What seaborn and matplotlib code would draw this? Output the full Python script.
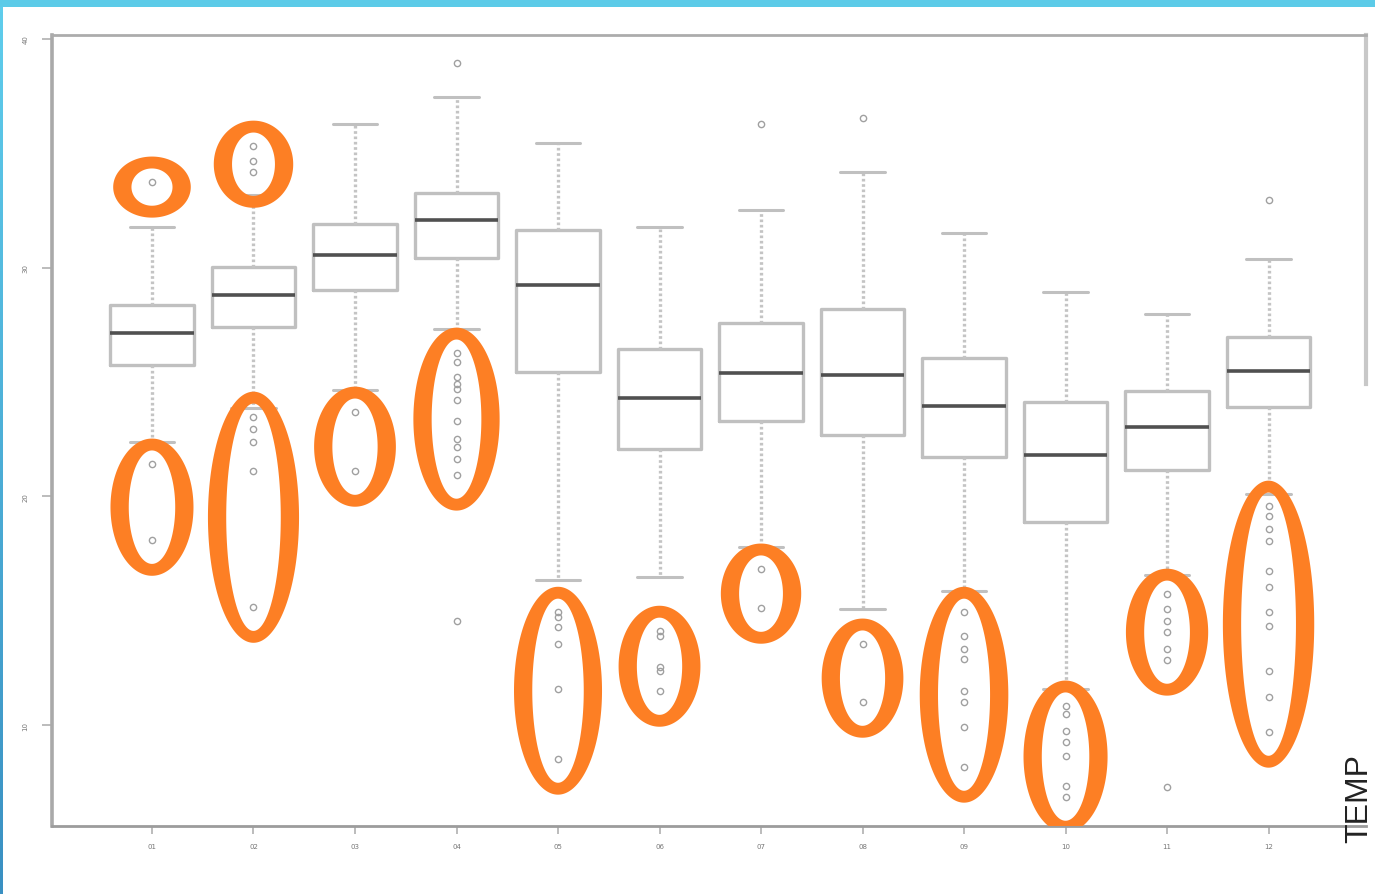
import numpy as np
import matplotlib
matplotlib.use("Agg")
import matplotlib.pyplot as plt
from matplotlib.path import Path
from matplotlib.patches import PathPatch, Rectangle
from matplotlib.colors import LinearSegmentedColormap
import seaborn as sns

# Monthly temperature summary (five-number stats per month plus outliers)
months = ["01", "02", "03", "04", "05", "06", "07", "08", "09", "10", "11", "12"]
whislo = [22.38, 23.85, 24.65, 27.30, 16.34, 16.48, 17.79, 15.08, 15.86, 11.58, 16.56, 20.10]
q1 = [25.74, 27.41, 29.03, 30.42, 25.44, 22.07, 23.30, 22.68, 21.72, 18.88, 21.15, 23.91]
medians = [27.14, 28.81, 30.56, 32.09, 29.24, 24.30, 25.40, 25.31, 23.95, 21.81, 23.03, 25.48]
q3 = [28.37, 30.03, 31.91, 33.27, 31.65, 26.44, 27.58, 28.19, 26.05, 24.13, 24.61, 26.97]
whishi = [31.78, 33.20, 36.28, 37.46, 35.45, 31.78, 32.52, 34.18, 31.52, 28.94, 27.98, 30.38]
outliers = [
    [33.75, 21.42, 18.09],
    [35.32, 34.66, 34.18, 23.47, 22.95, 22.38, 21.11, 15.16],
    [23.69, 21.11],
    [38.95, 26.27, 25.88, 25.22, 24.91, 24.70, 24.22, 23.30, 22.51, 22.16, 21.64, 20.94, 14.55],
    [14.94, 14.73, 14.29, 13.55, 11.58, 8.52],
    [14.11, 13.90, 12.54, 12.37, 11.49],
    [36.28, 16.83, 15.12],
    [36.55, 13.55, 11.01],
    [14.94, 13.90, 13.33, 12.89, 11.49, 11.01, 9.92, 8.17],
    [10.84, 10.49, 9.74, 9.26, 8.65, 7.34, 6.86],
    [15.73, 15.08, 14.55, 14.07, 13.33, 12.85, 7.29],
    [32.96, 19.58, 19.14, 18.57, 18.05, 16.74, 16.04, 14.94, 14.33, 12.37, 11.23, 9.70],
]
# Outlier groups to highlight: (month, lower value bound, upper value bound)
highlight_month = ["01", "01", "02", "02", "03", "04", "05", "06", "07", "08", "09", "10", "11", "12"]
highlight_lo = [33.0, 17.0, 33.5, 14.0, 20.0, 20.0, 8.0, 11.0, 14.0, 10.0, 7.0, 6.0, 12.0, 9.0]
highlight_hi = [34.5, 22.0, 36.0, 24.0, 24.0, 27.0, 16.0, 15.0, 17.0, 14.0, 16.0, 11.5, 16.0, 20.0]
yticks = [10, 20, 30, 40]
axis_label = "TEMP"

sns.set_theme(style="white")
plt.rcParams["font.family"] = ["DejaVu Sans"]

fig = plt.figure(figsize=(13.75, 8.95), dpi=100)
fig.patch.set_facecolor("white")
ax = fig.add_axes([52 / 1375, 1 - 827 / 895, (1366 - 52) / 1375, (827 - 36) / 895])

stats = []
for i, m in enumerate(months):
    stats.append(dict(label=m, whislo=whislo[i], q1=q1[i], med=medians[i],
                      q3=q3[i], whishi=whishi[i], fliers=outliers[i]))

positions = np.arange(len(months))
ax.bxp(stats, positions=positions, widths=0.82, capwidths=0.44, showfliers=True,
       boxprops=dict(color="#c0c0c0", linewidth=2.4),
       medianprops=dict(color="#505050", linewidth=2.6),
       whiskerprops=dict(color="#c4c4c4", linewidth=2.4, linestyle=(0, (0.8, 0.8))),
       capprops=dict(color="#c0c0c0", linewidth=2.2),
       flierprops=dict(marker="o", markerfacecolor="none", markeredgecolor="#a0a0a0",
                       markersize=4.5, markeredgewidth=1.0, linestyle="none"),
       manage_ticks=False)

ylo, yhi = 5.59, 40.175
ax.set_xlim(-0.985, 11.96)
ax.set_ylim(ylo, yhi)

# Orange rings around the highlighted outlier groups
ring_color = "#fd7f24"
ring_dx, ring_dy = 0.09, 0.26
t = np.linspace(0, 2 * np.pi, 240)
for m, lo, hi in zip(highlight_month, highlight_lo, highlight_hi):
    i = months.index(m)
    vals = [v for v in outliers[i] if lo <= v <= hi]
    top = max(vals) + 0.85
    bottom = min(vals) - 1.3
    cy = (top + bottom) / 2
    b = (top - bottom) / 2
    a = min(0.72, 0.55 + 0.016 * (top - bottom)) / 2
    outer = np.column_stack([i + (a + ring_dx) * np.cos(t), cy + (b + ring_dy) * np.sin(t)])
    inner = np.column_stack([i + (a - ring_dx) * np.cos(t), cy + (b - ring_dy) * np.sin(t)])[::-1]
    verts = np.vstack([outer, outer[:1], inner, inner[:1]])
    n = len(t)
    codes = ([Path.MOVETO] + [Path.LINETO] * (n - 1) + [Path.CLOSEPOLY]) * 2
    ax.add_patch(PathPatch(Path(verts, codes), facecolor=ring_color, edgecolor="none",
                           zorder=5))

# Axes frame and ticks
ax.set_xticks(positions)
ax.set_xticklabels(months)
ax.set_yticks(yticks)
ax.set_yticklabels([str(v) for v in yticks], rotation=90, va="center")
ax.tick_params(axis="x", length=6, width=1.2, color="#b0b0b0", pad=6,
               labelsize=5, labelcolor="#777777", direction="out", bottom=True)
ax.tick_params(axis="y", length=7, width=1.2, color="#b0b0b0", pad=10,
               labelsize=5, labelcolor="#777777", direction="out", left=True)
for side, col, lw in [("left", "#a9a9a9", 2.6), ("bottom", "#9c9c9c", 2.0),
                      ("top", "#acacac", 2.0), ("right", "#c8c8c8", 3.0)]:
    ax.spines[side].set_color(col)
    ax.spines[side].set_linewidth(lw)
ax.spines["right"].set_bounds(24.9, yhi)
ax.grid(False)

fig.text(1374 / 1375, 1 - 799 / 895, axis_label, rotation=90, ha="right", va="center",
         fontsize=23, color="#222222", family=["Liberation Sans", "DejaVu Sans"])

# Slide border: top band and left strip
fig.patches.append(Rectangle((0, 1 - 8 / 895), 1, 8 / 895, transform=fig.transFigure,
                             facecolor="#5ccbe8", edgecolor="none", zorder=10))
strip = fig.add_axes([0, 0, 3 / 1375, 1 - 8 / 895])
cmap = LinearSegmentedColormap.from_list("strip", ["#5fcdec", "#3a90c2"])
strip.imshow(np.linspace(0, 1, 256).reshape(-1, 1), aspect="auto", cmap=cmap)
strip.set_axis_off()

fig.savefig("out.png", dpi=100)
